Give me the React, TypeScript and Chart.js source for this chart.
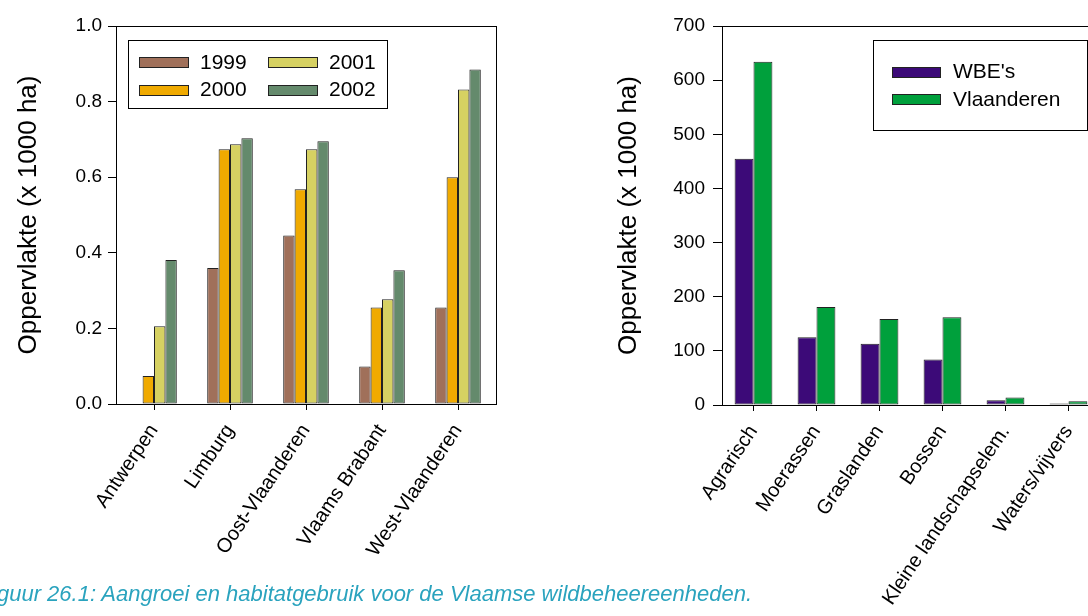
import React, { useEffect, useRef } from 'react';
import { Chart, registerables } from 'chart.js';

Chart.register(...registerables);

// Growth per province (x 1000 ha)
const regions = ['Antwerpen', 'Limburg', 'Oost-Vlaanderen', 'Vlaams Brabant', 'West-Vlaanderen'];
const years = ['1999', '2000', '2001', '2002'];
const area1999 = [0, 0.36, 0.446, 0.099, 0.255];
const area2000 = [0.074, 0.674, 0.568, 0.255, 0.6];
const area2001 = [0.206, 0.687, 0.674, 0.277, 0.832];
const area2002 = [0.381, 0.703, 0.695, 0.354, 0.885];
const regionTicks = [0, 0.2, 0.4, 0.6, 0.8, 1.0];

// Habitat use (x 1000 ha)
const habitats = ['Agrarisch', 'Moerassen', 'Graslanden', 'Bossen', 'Kleine landschapselem.', 'Waters/vijvers'];
const habitatSeries = ["WBE's", 'Vlaanderen'];
const wbeArea = [455, 125, 113, 84, 9, 3];
const flandersArea = [634, 181, 159, 162, 14, 7];
const habitatTicks = [0, 100, 200, 300, 400, 500, 600, 700];

const yearColors = ['#A0705A', '#F0AA00', '#D6D162', '#648A6C'];
const habitatColors = ['#3C0A78', '#00A03C'];

const FONT = '"Liberation Sans", Arial, sans-serif';
const yTitle = 'Oppervlakte (x 1000 ha)';
const caption = 'Figuur 26.1: Aangroei en habitatgebruik voor de Vlaamse wildbeheereenheden.';

// Closes the plot area with a frame
const framePlugin = {
  id: 'frame',
  afterDraw(chart: any) {
    const { ctx, chartArea: a } = chart;
    ctx.save();
    ctx.strokeStyle = '#000';
    ctx.lineWidth = 1;
    ctx.strokeRect(Math.round(a.left) + 0.5, Math.round(a.top) + 0.5, Math.round(a.right - a.left), Math.round(a.bottom - a.top));
    ctx.restore();
  },
};

// Boxed legend drawn inside the plot area
const boxLegendPlugin = {
  id: 'boxLegend',
  afterDraw(chart: any, _args: any, o: any) {
    if (!o || !o.w) return;
    const { ctx, chartArea: a } = chart;
    const bx = Math.round(a.left + o.dx);
    const by = Math.round(a.top + o.dy);
    ctx.save();
    ctx.fillStyle = '#fff';
    ctx.fillRect(bx, by, o.w, o.h);
    ctx.strokeStyle = '#000';
    ctx.lineWidth = 1;
    ctx.strokeRect(bx + 0.5, by + 0.5, o.w, o.h);
    ctx.font = `${o.fontSize}px ${FONT}`;
    ctx.textBaseline = 'middle';
    ctx.textAlign = 'left';
    chart.data.datasets.forEach((ds: any, i: number) => {
      const col = Math.floor(i / o.rows);
      const row = i % o.rows;
      const sx = Math.round(bx + o.swatchX + col * o.colStep);
      const cy = by + o.rowY + row * o.rowStep;
      const sy = Math.round(cy - o.swatchH / 2);
      ctx.fillStyle = ds.backgroundColor;
      ctx.fillRect(sx, sy, o.swatchW, o.swatchH);
      ctx.strokeStyle = '#222';
      ctx.strokeRect(sx + 0.5, sy + 0.5, o.swatchW, o.swatchH);
      ctx.fillStyle = '#000';
      ctx.fillText(ds.label, sx + o.textGap, cy + 1);
    });
    ctx.restore();
  },
};

function makeOptions(p: {
  ticks: number[];
  max: number;
  decimals: number;
  yWidth: number;
  xHeight: number;
  padRight: number;
  titlePad: number;
  yTickLen: number;
  yTickPad: number;
  legend: any;
}) {
  return {
    responsive: false,
    animation: false as const,
    layout: { padding: { top: 26, left: 0, right: p.padRight, bottom: 0 } },
    plugins: {
      legend: { display: false },
      tooltip: { enabled: false },
      boxLegend: p.legend,
    },
    datasets: { bar: { categoryPercentage: 0.6, barPercentage: 1.0 } },
    scales: {
      x: {
        offset: true,
        grid: { offset: false, drawOnChartArea: false, drawTicks: true, tickLength: 6, color: '#000' },
        border: { color: '#000', width: 1 },
        ticks: {
          autoSkip: false,
          minRotation: 56,
          maxRotation: 56,
          padding: 10,
          color: '#000',
          font: { family: FONT, size: 20 },
        },
        afterFit: (s: any) => {
          s.height = p.xHeight;
        },
      },
      y: {
        min: 0,
        max: p.max,
        grid: { drawOnChartArea: false, drawTicks: true, tickLength: p.yTickLen, color: '#000' },
        border: { color: '#000', width: 1 },
        ticks: {
          padding: p.yTickPad,
          color: '#000',
          font: { family: FONT, size: 19 },
          callback: (v: any) => Number(v).toFixed(p.decimals),
        },
        afterBuildTicks: (s: any) => {
          s.ticks = p.ticks.map((value) => ({ value }));
        },
        afterFit: (s: any) => {
          s.width = p.yWidth;
        },
        title: {
          display: true,
          text: yTitle,
          color: '#000',
          font: { family: FONT, size: 26 },
          padding: { top: p.titlePad, bottom: 0 },
        },
      },
    },
  };
}

function RegionChart() {
  const ref = useRef<HTMLCanvasElement>(null);
  useEffect(() => {
    const values = [area1999, area2000, area2001, area2002];
    const chart = new Chart(ref.current!, {
      type: 'bar',
      data: {
        labels: regions,
        datasets: years.map((y, i) => ({
          label: y,
          data: values[i],
          backgroundColor: yearColors[i],
          borderColor: '#222',
          borderWidth: 1,
          borderSkipped: false,
        })),
      },
      options: makeOptions({
        ticks: regionTicks,
        max: 1,
        decimals: 1,
        yWidth: 116,
        xHeight: 212,
        padRight: 64,
        titlePad: 13,
        yTickLen: 8,
        yTickPad: 6,
        legend: {
          dx: 12, dy: 14, w: 259, h: 68, rows: 2, colStep: 129,
          swatchX: 11, swatchW: 49, swatchH: 10, rowY: 22, rowStep: 27.5,
          textGap: 61, fontSize: 21,
        },
      }) as any,
      plugins: [framePlugin, boxLegendPlugin],
    });
    return () => chart.destroy();
  }, []);
  return <canvas ref={ref} width={560} height={616} style={{ position: 'absolute', left: 0, top: 0 }} />;
}

function HabitatChart() {
  const ref = useRef<HTMLCanvasElement>(null);
  useEffect(() => {
    const values = [wbeArea, flandersArea];
    const chart = new Chart(ref.current!, {
      type: 'bar',
      data: {
        labels: habitats,
        datasets: habitatSeries.map((name, i) => ({
          label: name,
          data: values[i],
          backgroundColor: habitatColors[i],
          borderColor: '#222',
          borderWidth: 1,
          borderSkipped: false,
        })),
      },
      options: makeOptions({
        ticks: habitatTicks,
        max: 700,
        decimals: 0,
        yWidth: 162,
        xHeight: 211,
        padRight: 20,
        titlePad: 53,
        yTickLen: 9,
        yTickPad: 8,
        legend: {
          dx: 151, dy: 14, w: 214, h: 90, rows: 2, colStep: 0,
          swatchX: 19, swatchW: 48, swatchH: 10, rowY: 31.5, rowStep: 27.5,
          textGap: 61, fontSize: 21,
        },
      }) as any,
      plugins: [framePlugin, boxLegendPlugin],
    });
    return () => chart.destroy();
  }, []);
  return <canvas ref={ref} width={560} height={616} style={{ position: 'absolute', left: 560, top: 0 }} />;
}

export default function App() {
  return (
    <div
      style={{
        position: 'fixed',
        left: 0,
        top: 0,
        width: 1088,
        height: 616,
        overflow: 'hidden',
        background: '#fff',
      }}
    >
      <RegionChart />
      <HabitatChart />
      <div
        style={{
          position: 'absolute',
          right: 1088 - 752,
          top: 583,
          whiteSpace: 'nowrap',
          fontFamily: FONT,
          fontStyle: 'italic',
          fontSize: 22,
          lineHeight: '22px',
          color: '#2AA3BE',
        }}
      >
        {caption}
      </div>
    </div>
  );
}
